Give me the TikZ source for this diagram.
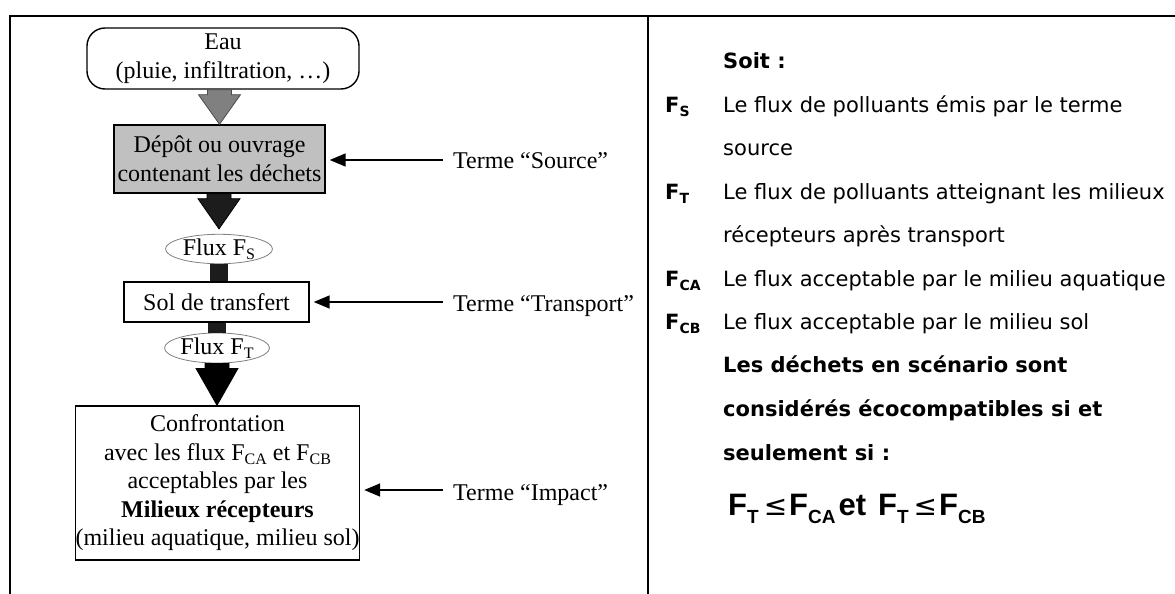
\documentclass[tikz,border=0pt]{standalone}
\usepackage{fontspec}
\setmainfont{Liberation Serif}
\newfontfamily\tah{DejaVu Sans}
\newfontfamily\ari{Liberation Sans}
\usetikzlibrary{shapes.geometric,arrows.meta,calc}
\newcommand\lsub[1]{\raisebox{-4pt}{\fontsize{16}{16}\selectfont #1}}
\newcommand\rsub[1]{\raisebox{-4pt}{\fontsize{14}{14}\selectfont #1}}
\newcommand\fsub[1]{\raisebox{-8pt}{\fontsize{19}{19}\selectfont #1}}
\newcommand\fleq{{\tah\mdseries\fontsize{28}{28}\selectfont ≤}}
\definecolor{boxgray}{HTML}{C0C0C0}
\definecolor{arrgray}{HTML}{808080}
\definecolor{arrdark}{HTML}{1C1C1C}
\newcommand\blkarrow[4]{%
  \filldraw[fill=#3,draw=#4,line width=0.8pt]
    ($(#1)+(-12,0)$) -- ($(#1)+(-12,5)$) -- ($(#1)+(-21,5)$) -- (#2)
    -- ($(#1)+(21,5)$) -- ($(#1)+(12,5)$) -- ($(#1)+(12,0)$) -- cycle;}
\begin{document}
\begin{tikzpicture}[x=1pt,y=-1pt,
  lt/.style={font=\fontsize{24}{28.5}\selectfont, align=center, inner sep=0pt},
  box/.style={draw, line width=1.4pt, lt},
  flux/.style={ellipse, draw=arrgray, line width=0.8pt, fill=white, lt},
  terme/.style={font=\fontsize{24}{28}\selectfont, anchor=base west, inner sep=0pt},
  pointer/.style={line width=1.6pt, -{Triangle[length=16pt,width=13pt]}, shorten >=4pt},
  rt/.style={font=\tah\fontsize{21}{21}\selectfont, anchor=base west, inner sep=0pt},
  rb/.style={rt, font=\tah\bfseries\fontsize{21}{21}\selectfont},
  frame/.style={line width=2pt}]
\useasboundingbox (0,0) rectangle (1175,594);
% frame
\draw[frame] (9,16.5) -- (1175,16.5);
\draw[frame] (9.5,16) -- (9.5,594);
\draw[frame] (647.5,16) -- (647.5,594);
% flow chart
\node[box, rounded corners=18pt, minimum width=272pt, minimum height=61pt] (eau) at (223,58.5)
  {Eau\\(pluie, infiltration, \dots)};
\node[box, fill=boxgray, minimum width=211pt, minimum height=68pt] (depot) at (219.5,159)
  {Dépôt ou ouvrage\\contenant les déchets};
\node[flux, minimum width=107pt, minimum height=28pt] (fs) at (219,249) {Flux F\lsub{S}};
\node[box, minimum width=185pt, minimum height=40pt] (sol) at (216.5,302) {Sol de transfert};
\node[flux, minimum width=105pt, minimum height=30pt] (ft) at (217,348) {Flux F\lsub{T}};
\node[box, minimum width=283pt, minimum height=154pt] (conf) at (217.5,483)
  {Confrontation\\avec les flux F\lsub{CA} et F\lsub{CB}\\acceptables par les\\\textbf{Milieux récepteurs}\\(milieu aquatique, milieu sol)};
% block arrows
\coordinate (a1) at (depot.north |- eau.south);
\blkarrow{a1}{depot.north}{arrgray}{black!70}
\coordinate (a2) at (fs.north |- depot.south);
\coordinate (a2t) at ($(fs.north)+(0,-5)$);
\blkarrow{a2}{a2t}{arrdark}{black}
\fill[arrdark] ($(fs.south)+(-9,0)$) rectangle ($(fs.south |- sol.north)+(9,0)$);
\fill[arrdark] ($(ft.north |- sol.south)+(-9,0)$) rectangle ($(ft.north)+(9,0)$);
\coordinate (a3) at (ft.south);
\coordinate (a3t) at (ft.south |- conf.north);
\blkarrow{a3}{a3t}{black}{black}
% terme labels
\node[terme] (tsrc) at (453,168) {Terme “Source”};
\node[terme] (ttra) at (453,311) {Terme “Transport”};
\node[terme] (timp) at (453,500) {Terme “Impact”};
\coordinate (psrc) at (443,160);
\coordinate (ptra) at (443,302);
\coordinate (pimp) at (443,490);
\draw[pointer] (psrc) -- (psrc -| depot.east);
\draw[pointer] (ptra) -- (ptra -| sol.east);
\draw[pointer] (pimp) -- (pimp -| conf.east);
% right column
\node[rb] (soit) at (723,68) {Soit :};
\node[rb] (lfs) at (665,112) {F\rsub{S}};
\node[rt] (t1) at (723,112) {Le flux de polluants émis par le terme};
\node[rt] (t2) at (723,155) {source};
\node[rb] (lft) at (665,199) {F\rsub{T}};
\node[rt] (t3) at (723,199) {Le flux de polluants atteignant les milieux};
\node[rt] (t4) at (723,242) {récepteurs après transport};
\node[rb] (lfca) at (665,286) {F\rsub{CA}};
\node[rt] (t5) at (723,286) {Le flux acceptable par le milieu aquatique};
\node[rb] (lfcb) at (665,329) {F\rsub{CB}};
\node[rt] (t6) at (723,329) {Le flux acceptable par le milieu sol};
\node[rb] (b1) at (723,372) {Les déchets en scénario sont};
\node[rb] (b2) at (723,416) {considérés écocompatibles si et};
\node[rb] (b3) at (723,460) {seulement si :};
\node[anchor=base west, inner sep=0pt] (formula) at (728,515)
  {\ari\bfseries\fontsize{31}{31}\selectfont F\fsub{T}\hspace{5pt}\fleq\hspace{2pt}F\fsub{CA}\hspace{3pt}et\hspace{12pt}F\fsub{T}\hspace{5pt}\fleq\hspace{2pt}F\fsub{CB}};
\end{tikzpicture}
\end{document}
